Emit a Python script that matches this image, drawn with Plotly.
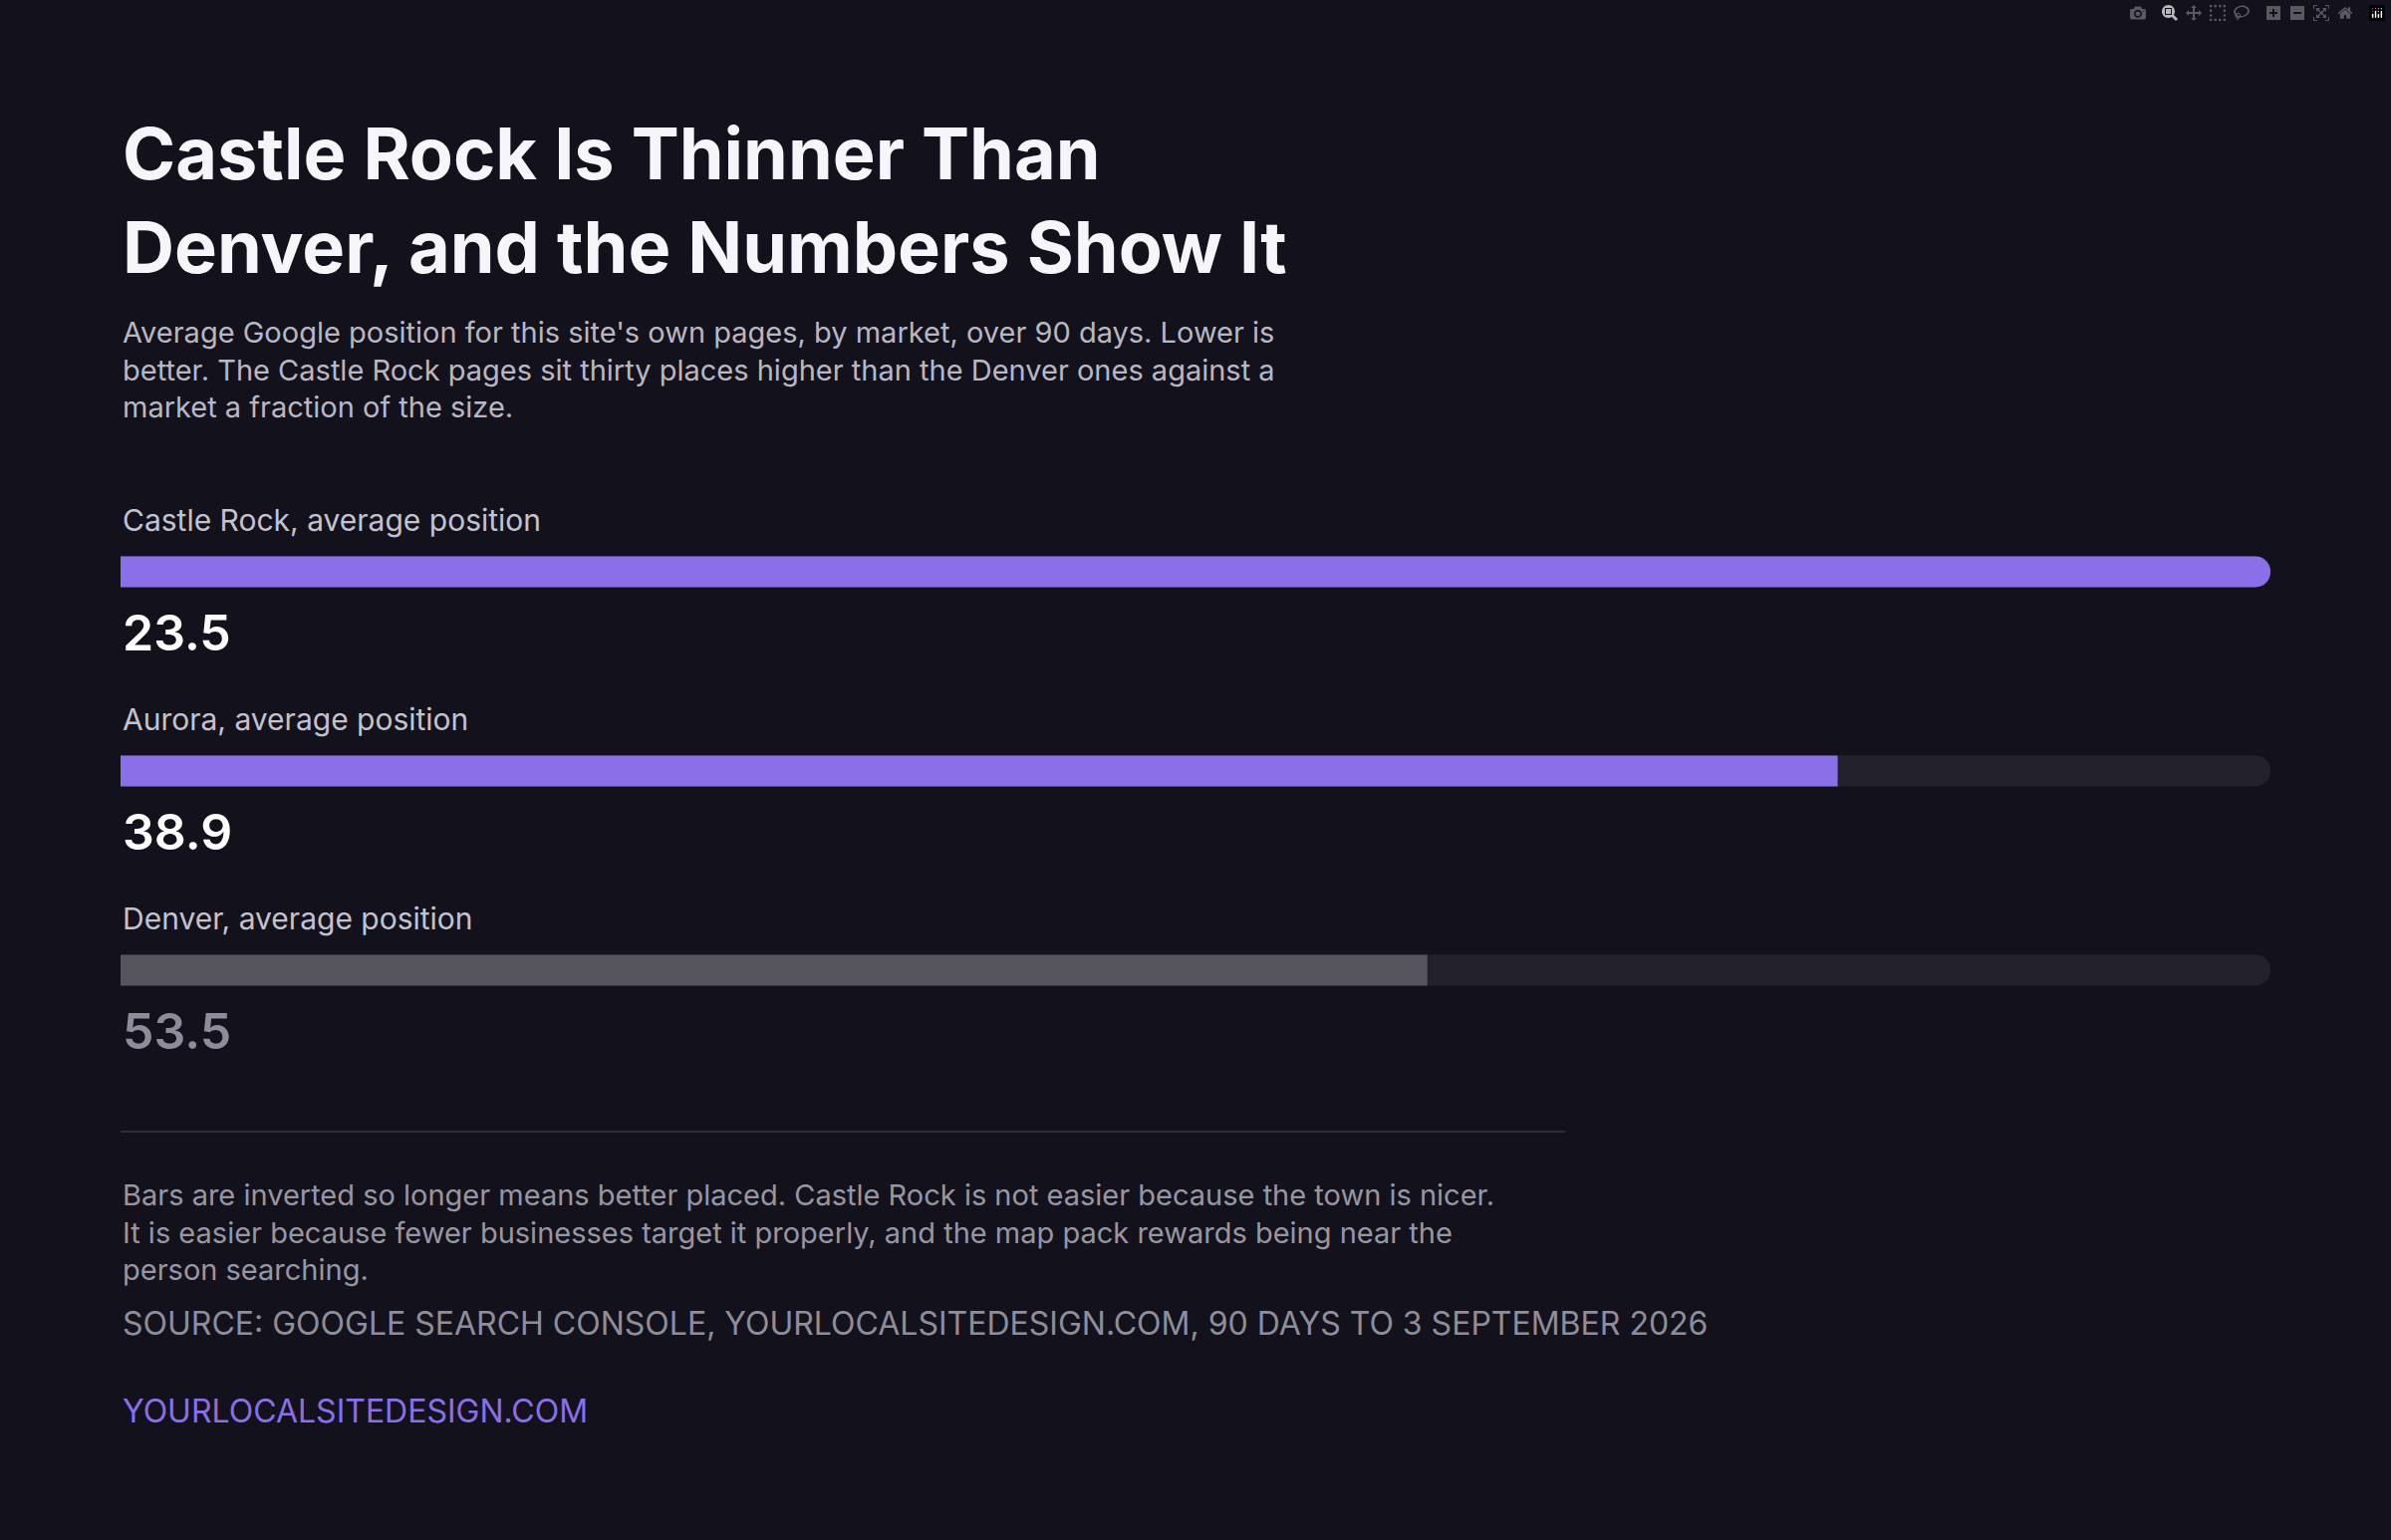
import plotly.graph_objects as go

markets = ["Castle Rock", "Aurora", "Denver"]
positions = [23.5, 38.9, 53.5]
bar_colors = ["#8a6fe8", "#8a6fe8", "#56555d"]
value_colors = ["#ffffff", "#ffffff", "#8e8c9a"]

title = "Castle Rock Is Thinner Than<br>Denver, and the Numbers Show It"
subtitle = ("Average Google position for this site's own pages, by market, over 90 days. Lower is<br>"
            "better. The Castle Rock pages sit thirty places higher than the Denver ones against a<br>"
            "market a fraction of the size.")
notes = ("Bars are inverted so longer means better placed. Castle Rock is not easier because the town is nicer.<br>"
         "It is easier because fewer businesses target it properly, and the map pack rewards being near the<br>"
         "person searching.")
source = "SOURCE: GOOGLE SEARCH CONSOLE, YOURLOCALSITEDESIGN.COM, 90 DAYS TO 3 SEPTEMBER 2026"
footer = "YOURLOCALSITEDESIGN.COM"

W, H = 2400, 1546
BG = "#13121c"
score = [100 - p for p in positions]
full = max(score)
idx = list(range(len(markets)))

fig = go.Figure()
fig.add_bar(y=idx, x=[full] * len(idx), orientation="h", width=0.155,
            marker=dict(color="#23222c", cornerradius="50%", line_width=0),
            hoverinfo="skip", showlegend=False)
fig.add_bar(y=idx, x=score, orientation="h", width=0.155,
            marker=dict(color=bar_colors, cornerradius="50%", line_width=0),
            showlegend=False)

def py(p):
    return 1 - p / H

x0 = 121 / W
ann = []
ann.append(dict(text=title, x=x0, y=py(108), xanchor="left", yanchor="top",
                font=dict(family="Inter", size=72, color="#f6f5fa", weight=700), align="left"))
ann.append(dict(text=subtitle, x=x0, y=py(314), xanchor="left", yanchor="top",
                font=dict(family="Inter", size=29, color="#b9b7c4"), align="left"))
for i, m in enumerate(markets):
    c = 574 + 200 * i
    ann.append(dict(text=f"{m}, average position", x=x0, y=py(c - 52), xanchor="left", yanchor="middle",
                    font=dict(family="Inter", size=30, color="#c4c2ce")))
    ann.append(dict(text=f"{positions[i]}", x=x0, y=py(c + 61), xanchor="left", yanchor="middle",
                    font=dict(family="Inter", size=50, color=value_colors[i], weight=600)))
ann.append(dict(text=notes, x=x0, y=py(1180), xanchor="left", yanchor="top",
                font=dict(family="Inter", size=29, color="#9896a3"), align="left"))
ann.append(dict(text=source, x=x0, y=py(1328), xanchor="left", yanchor="middle",
                font=dict(family="Inter", size=32, color="#8f8d9a")))
ann.append(dict(text=footer, x=x0, y=py(1416), xanchor="left", yanchor="middle",
                font=dict(family="Inter", size=32, color="#8a6fe8")))
for a in ann:
    a.update(xref="paper", yref="paper", showarrow=False)

fig.update_layout(
    width=W, height=H, paper_bgcolor=BG, plot_bgcolor=BG,
    margin=dict(l=0, r=0, t=0, b=0), barmode="overlay",
    annotations=ann,
    shapes=[dict(type="line", xref="paper", yref="paper", x0=x0, x1=1571 / W,
                 y0=py(1136), y1=py(1136), line=dict(color="#2f2e39", width=2))],
    xaxis=dict(domain=[x0, 2279 / W], range=[0, full], visible=False, fixedrange=True),
    yaxis=dict(domain=[0, 1], range=[(H - 574) / 200, -574 / 200], visible=False),
)
fig.write_html("out.html", post_script="document.body.style.margin='0';document.body.style.background='#13121c';")
